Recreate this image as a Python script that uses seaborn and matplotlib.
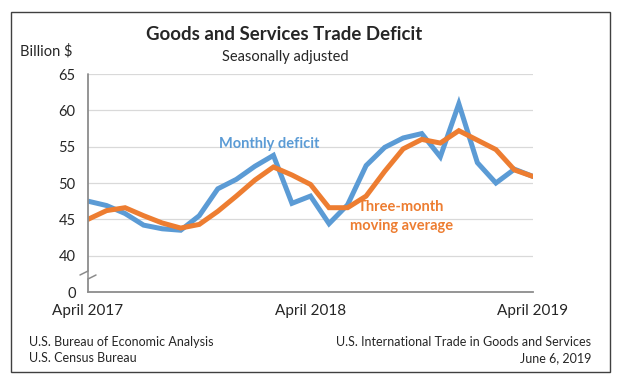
import matplotlib
matplotlib.use("Agg")
import matplotlib.pyplot as plt
import matplotlib.patches as patches
import seaborn as sns
import pandas as pd

# Monthly values, April 2017 .. April 2019 (billion $, seasonally adjusted)
month_idx = list(range(25))
monthly_deficit = [47.5, 46.9, 45.8, 44.2, 43.7, 43.5, 45.5, 49.2, 50.5, 52.3, 53.8, 47.2, 48.2,
                   44.4, 47.0, 52.4, 54.9, 56.2, 56.8, 53.6, 60.9, 52.8, 50.0, 51.9, 50.9]
three_month_avg = [45.0, 46.2, 46.6, 45.5, 44.5, 43.8, 44.3, 46.1, 48.2, 50.4, 52.2, 51.1, 49.8,
                   46.6, 46.6, 48.2, 51.6, 54.7, 56.0, 55.5, 57.2, 55.9, 54.6, 51.8, 50.9]
xtick_pos = [0, 12, 24]
xtick_labels = ["April 2017", "April 2018", "April 2019"]
ytick_pos = [35, 40, 45, 50, 55, 60, 65]
ytick_labels = ["0", "40", "45", "50", "55", "60", "65"]

df = pd.DataFrame({"month": month_idx, "monthly": monthly_deficit, "avg": three_month_avg})

BLUE = "#5B9BD5"
ORANGE = "#ED7D31"
AXIS = "#8c8c8c"

sns.set_style("white")
plt.rcParams["font.family"] = ["Lato", "DejaVu Sans"]

fig = plt.figure(figsize=(6.24, 3.88), dpi=100)
W, H = 624, 388
ax = fig.add_axes([88 / W, 1 - 292 / H, 445 / W, 218 / H])

sns.lineplot(data=df, x="month", y="monthly", ax=ax, color=BLUE, linewidth=3.6,
             solid_joinstyle="miter")
sns.lineplot(data=df, x="month", y="avg", ax=ax, color=ORANGE, linewidth=3.6,
             solid_joinstyle="miter")

ax.set_xlim(0, 24)
ax.set_ylim(35, 65)
ax.set_xlabel("")
ax.set_ylabel("")

# gridlines 40..65
for v in ytick_pos[1:]:
    ax.axhline(v, color="#d9d9d9", linewidth=0.9, zorder=0)

ax.set_yticks(ytick_pos)
ax.set_yticklabels(ytick_labels)
ax.set_xticks(xtick_pos)
ax.set_xticklabels(xtick_labels)
ax.set_xticks(month_idx, minor=True)
ax.tick_params(axis="y", length=0, pad=9, labelsize=10.5)
ax.tick_params(axis="x", which="both", direction="in", length=4, width=1.1,
               color=AXIS, pad=9, labelsize=11)

for s in ["top", "right", "left"]:
    ax.spines[s].set_visible(False)
ax.spines["bottom"].set_color(AXIS)
ax.spines["bottom"].set_linewidth(1.3)

# left axis with a break between 40 and 0
def ax_pt(dx, y):
    return dx / 445, (292 - y) / 218

top_end = ax_pt(0, 271)
bot_start = ax_pt(0, 279)
ax.plot([0, 0], [top_end[1], 1], transform=ax.transAxes, color=AXIS, lw=1.3, clip_on=False)
ax.plot([0, 0], [0, bot_start[1]], transform=ax.transAxes, color=AXIS, lw=1.3, clip_on=False)
zz = [ax_pt(-8, 275), ax_pt(0, 271), ax_pt(0, 279), ax_pt(8, 275)]
ax.plot([p[0] for p in zz], [p[1] for p in zz], transform=ax.transAxes,
        color=AXIS, lw=1.1, clip_on=False)

# series labels
ax.text(9.76, 55.4, "Monthly deficit", color=BLUE, fontsize=10.5,
        fontweight="bold", ha="center", va="center")
ax.text(16.9, 46.7, "Three-month", color=ORANGE, fontsize=10.5,
        fontweight="bold", ha="center", va="center")
ax.text(16.9, 44.1, "moving average", color=ORANGE, fontsize=10.5,
        fontweight="bold", ha="center", va="center")

# titles and notes
fig.text(284 / W, 1 - 34 / H, "Goods and Services Trade Deficit", fontsize=13.4,
         fontweight="bold", ha="center", va="center")
fig.text(285 / W, 1 - 57 / H, "Seasonally adjusted", fontsize=10.5, ha="center", va="center")
fig.text(46 / W, 1 - 51 / H, "Billion $", fontsize=10.5, ha="center", va="center")
fig.text(29 / W, 1 - 342 / H, "U.S. Bureau of Economic Analysis", fontsize=9, ha="left", va="center")
fig.text(29 / W, 1 - 358 / H, "U.S. Census Bureau", fontsize=9, ha="left", va="center")
fig.text(591 / W, 1 - 342 / H, "U.S. International Trade in Goods and Services", fontsize=9,
         ha="right", va="center")
fig.text(591 / W, 1 - 358 / H, "June 6, 2019", fontsize=9, ha="right", va="center")

fig.patches.append(patches.Rectangle((11 / W, 1 - 372 / H), 599 / W, 360 / H,
                                     transform=fig.transFigure, fill=False,
                                     edgecolor="#404040", linewidth=1.0))

fig.savefig("out.png", dpi=100)
